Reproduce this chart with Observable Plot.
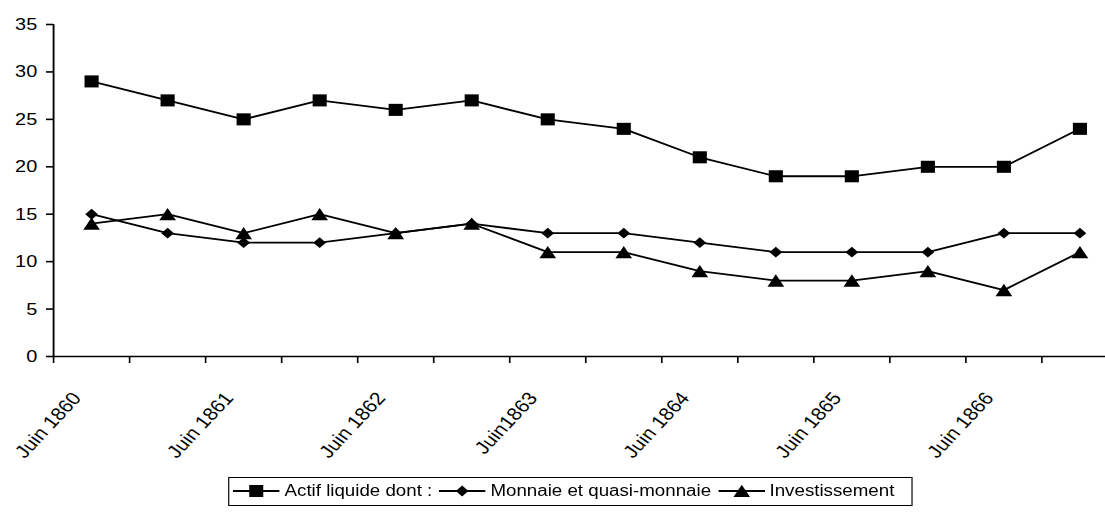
<!DOCTYPE html>
<html>
<head>
<meta charset="utf-8">
<script src="https://cdn.jsdelivr.net/npm/d3@7"></script>
<script src="https://cdn.jsdelivr.net/npm/@observablehq/plot@0.6"></script>
<style>
  html, body { margin: 0; padding: 0; background: #fff; overflow: hidden; width: 1105px; height: 523px; }
  #wrap { position: relative; width: 955px; height: 523px; transform: scaleX(1.17); transform-origin: 0 0; }
  #chart svg text { font-family: "Liberation Sans", Arial, sans-serif; fill: #000; }
  #legend { position: absolute; left: 195px; top: 477px; width: 585px; height: 29px; box-sizing: border-box;
            border: 1.5px solid #000; font: 16px "Liberation Sans", Arial, sans-serif; color: #000;
            white-space: nowrap; background: #fff; }
  #legend .item { position: absolute; top: 0; height: 26px; display: flex; align-items: center; }
  #legend svg { display: block; margin-right: 4px; }
</style>
</head>
<body>
<div id="wrap">
  <div id="chart"></div>
  <div id="legend"></div>
</div>
<script>
// ---- data ----
const tickLabels = ["Juin 1860", "", "Juin 1861", "", "Juin 1862", "", "Juin1863", "", "Juin 1864", "", "Juin 1865", "", "Juin 1866", ""];
const seriesNames = ["Actif liquide dont :", "Monnaie et quasi-monnaie", "Investissement"];
const actif = [29, 27, 25, 27, 26, 27, 25, 24, 21, 19, 19, 20, 20, 24];
const monnaie = [15, 13, 12, 12, 13, 14, 13, 13, 12, 11, 11, 11, 13, 13];
const investissement = [14, 15, 13, 15, 13, 14, 11, 11, 9, 8, 8, 9, 7, 11];
const yTicks = [0, 5, 10, 15, 20, 25, 30, 35];

// ---- build tidy rows ----
const seriesValues = [actif, monnaie, investissement];
const rows = seriesNames.flatMap((name, s) =>
  seriesValues[s].map((v, i) => ({ x: i + 0.5, value: v, series: name })));
const bySeries = name => rows.filter(d => d.series === name);

const font = "'Liberation Sans', Arial, sans-serif";

const chart = Plot.plot({
  width: 955,
  height: 470,
  marginTop: 24,
  marginBottom: 114,
  marginLeft: 45.3,
  marginRight: 0,
  style: { fontFamily: font, fontSize: "16px", color: "#000", background: "#fff", overflow: "visible" },
  x: { domain: [0, tickLabels.length], label: null },
  y: { domain: [0, 35], label: null },
  marks: [
    Plot.axisY({ ticks: yTicks, tickSize: 6, tickPadding: 8, strokeWidth: 1.6, fontSize: 17, label: null }),
    Plot.axisX({ ticks: d3.range(0, tickLabels.length + 1), tickSize: 7, tickFormat: () => "", strokeWidth: 1.4, label: null }),
    Plot.axisX({
      ticks: d3.range(tickLabels.length).map(i => i + 0.5),
      tickFormat: d => tickLabels[Math.floor(d)],
      tickSize: 0, tickPadding: 42, tickRotate: -51,
      textAnchor: "end", lineAnchor: "bottom", dx: -8, fontSize: 18, label: null
    }),
    Plot.ruleY([0], { stroke: "#000", strokeWidth: 1.6 }),
    Plot.ruleX([0], { stroke: "#000", strokeWidth: 1.6 }),
    Plot.line(rows, { x: "x", y: "value", z: "series", stroke: "#000", strokeWidth: 1.8 }),
    Plot.dot(bySeries(seriesNames[0]), { x: "x", y: "value", symbol: "square", r: 6.8, fill: "#000", stroke: "none" }),
    Plot.dot(bySeries(seriesNames[1]), { x: "x", y: "value", symbol: "diamond2", r: 4.9, fill: "#000", stroke: "none" }),
    Plot.dot(bySeries(seriesNames[2]), { x: "x", y: "value", symbol: "triangle", r: 5.3, fill: "#000", stroke: "none", dy: 2 })
  ]
});
document.getElementById("chart").appendChild(chart);

// ---- legend ----
const legend = d3.select("#legend");
const itemLeft = [3.2, 179.2, 417.7];
const markerShapes = [
  g => g.append("rect").attr("x", 14).attr("y", 7).attr("width", 12).attr("height", 12),
  g => g.append("polygon").attr("points", "20,7.6 25.4,13 20,18.4 14.6,13"),
  g => g.append("polygon").attr("points", "20,6.8 27.1,19 12.9,19")
];
seriesNames.forEach((name, s) => {
  const item = legend.append("div").attr("class", "item").style("left", itemLeft[s] + "px");
  const svg = item.append("svg").attr("width", 40).attr("height", 26);
  svg.append("line").attr("x1", 0).attr("x2", 40).attr("y1", 13).attr("y2", 13)
     .attr("stroke", "#000").attr("stroke-width", 1.8);
  markerShapes[s](svg.append("g").attr("fill", "#000"));
  item.append("span").text(name);
});
</script>
</body>
</html>
